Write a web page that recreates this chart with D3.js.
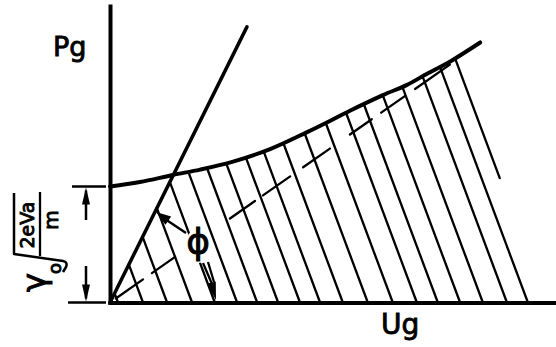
<!DOCTYPE html>
<html>
<head>
<meta charset="utf-8">
<script src="https://cdn.jsdelivr.net/npm/d3@7"></script>
<style>
  html, body { margin: 0; padding: 0; background: #fff; }
  svg { display: block; }
  text { font-family: "DejaVu Sans", "Liberation Sans", sans-serif; fill: #000; stroke: #000; stroke-width: 0.9px; }
</style>
</head>
<body>
<svg id="chart" width="556" height="347"></svg>
<script>
// ---- data (Ug along x, Pg along y, arbitrary units) ----
// upper boundary of the permitted region
const curveUg = [0, 6.7, 14.1, 20.2, 27.6, 35.9, 44.2, 49.3, 53.8, 61.2, 66.6, 71.1, 76.2, 83.0];
const curvePg = [26.0, 27.0, 28.6, 29.8, 31.6, 34.4, 38.2, 40.7, 43.0, 46.5, 48.8, 51.3, 54.0, 58.3];
// straight limit line through the origin
const limitUg = [0, 30.7];
const limitPg = [0, 61.8];
// dashed line through the origin: slope and the Ug extent of each dash
const dashSlope = 0.70;
const dashFrom = [1.3, 9.4, 26.9, 34.3, 43.3, 53.8, 60.8, 68.4];
const dashTo   = [7.4, 14.6, 32.5, 40.4, 49.3, 58.7, 66.1, 76.2];
// hatching: foot of each stroke on the Ug axis, and where each stroke stops below
const hatchFoot = [1.8, 7.4, 12.8, 18.4, 23.5, 28.5, 33.0, 37.7, 42.6, 47.1, 52.2, 57.8,
                   63.4, 68.8, 73.5, 78.5, 83.6, 89.0, 93.7, 97.8];
const hatchLow  = [0, 0, 0, 0, 0, 0, 0, 0, 0, 0, 0, 0, 0, 0, 0, 0, 0, 0, 0, 27.9];
const hatchSlope = 2.68;
// axis extents and labels
const ugMax = 100, pgMax = 66.5;
const axisNames = ["Ug", "Pg"];
const angleLabel = "\u03D5";

const svg = d3.select("#chart");
const x = d3.scaleLinear().domain([0, ugMax]).range([110, 556]);
const y = d3.scaleLinear().domain([0, pgMax]).range([302.5, 5.9]);

// hatching (drawn first so boundary lines sit on top)
const boundary = svg.append("path")
  .datum(curveUg.map((u, i) => [u, curvePg[i]]))
  .attr("fill", "none")
  .attr("stroke", "none")
  .attr("d", d3.line().x(d => x(d[0])).y(d => y(d[1])).curve(d3.curveCatmullRom));

// sample the boundary so it can be evaluated at any Ug
const node = boundary.node();
const total = node.getTotalLength();
const samples = d3.range(0, 601).map(i => node.getPointAtLength(total * i / 600));
function curveAt(u) {
  const px = x(u);
  if (px <= samples[0].x) return y.invert(samples[0].y);
  for (let i = 1; i < samples.length; i++) {
    if (samples[i].x >= px) {
      const a = samples[i - 1], b = samples[i];
      const t = (px - a.x) / ((b.x - a.x) || 1);
      return y.invert(a.y + t * (b.y - a.y));
    }
  }
  return Infinity;
}
const limitSlope = limitPg[1] / limitUg[1];

const hatchG = svg.append("g")
  .attr("stroke", "#000").attr("stroke-width", 2.3).attr("stroke-linecap", "round");
hatchFoot.forEach((foot, i) => {
  const low = hatchLow[i];
  let s = low;
  while (s < pgMax) {
    const u = foot - s / hatchSlope;
    if (s >= limitSlope * u || s >= curveAt(u)) break;
    s += 0.05;
  }
  hatchG.append("line")
    .attr("x1", x(foot - low / hatchSlope)).attr("y1", y(low))
    .attr("x2", x(foot - s / hatchSlope)).attr("y2", y(s));
});

// dashed line
svg.append("g")
  .attr("stroke", "#000").attr("stroke-width", 2.3).attr("stroke-linecap", "round")
  .selectAll("line").data(dashFrom).join("line")
  .attr("x1", d => x(d)).attr("y1", d => y(d * dashSlope))
  .attr("x2", (d, i) => x(dashTo[i])).attr("y2", (d, i) => y(dashTo[i] * dashSlope));

// knock-out behind the angle symbol
svg.append("ellipse").attr("cx", 198).attr("cy", 246).attr("rx", 13).attr("ry", 17).attr("fill", "#fff");

// upper boundary curve
svg.append("path")
  .datum(curveUg.map((u, i) => [u, curvePg[i]]))
  .attr("fill", "none").attr("stroke", "#000").attr("stroke-width", 4).attr("stroke-linecap", "round")
  .attr("d", d3.line().x(d => x(d[0])).y(d => y(d[1])).curve(d3.curveCatmullRom));

// limit line
svg.append("line")
  .attr("x1", x(limitUg[0])).attr("y1", y(limitPg[0]))
  .attr("x2", x(limitUg[1])).attr("y2", y(limitPg[1]))
  .attr("stroke", "#000").attr("stroke-width", 3.5).attr("stroke-linecap", "round");

// axes (plain lines, no ticks)
const xAxis = svg.append("g").attr("transform", `translate(0,${y(0)})`)
  .call(d3.axisBottom(x).tickValues([]).tickSizeOuter(0));
const yAxis = svg.append("g").attr("transform", `translate(${x(0)},0)`)
  .call(d3.axisLeft(y).tickValues([]).tickSizeOuter(0));
[xAxis, yAxis].forEach(g => g.select(".domain").attr("stroke", "#000").attr("stroke-width", 4).attr("stroke-linecap", "square"));

svg.append("text").attr("x", 53).attr("y", 56).attr("font-size", 27).text(axisNames[1]);
svg.append("text").attr("x", 381).attr("y", 334).attr("font-size", 28).text(axisNames[0]);

// angle symbol and its arrows
svg.append("text").attr("x", 198).attr("y", 254).attr("font-size", 36)
  .attr("text-anchor", "middle").text(angleLabel);

function arrowHead(tipX, tipY, fromX, fromY, len, half) {
  const dx = tipX - fromX, dy = tipY - fromY, L = Math.hypot(dx, dy);
  const ux = dx / L, uy = dy / L;
  const bx = tipX - ux * len, by = tipY - uy * len;
  return `M${tipX},${tipY}L${bx - uy * half},${by + ux * half}L${bx + uy * half},${by - ux * half}Z`;
}
svg.append("line").attr("x1", 186).attr("y1", 233).attr("x2", 162).attr("y2", 217)
  .attr("stroke", "#000").attr("stroke-width", 2.5);
svg.append("path").attr("d", arrowHead(156, 212, 186, 233, 15, 5)).attr("fill", "#000");

svg.append("path").attr("d", "M203,263L212,284M208,262L214,282")
  .attr("stroke", "#000").attr("stroke-width", 2.3).attr("fill", "none");
svg.append("path").attr("d", arrowHead(216, 300, 211, 281, 18, 4.5)).attr("fill", "#000");

// dimension for the intercept on the Pg axis
const dimX = 86, topY = y(curvePg[0]), botY = y(0);
const dim = svg.append("g").attr("stroke", "#000").attr("stroke-width", 2.5);
dim.append("line").attr("x1", 72).attr("x2", 106).attr("y1", topY).attr("y2", topY);
dim.append("line").attr("x1", 68).attr("x2", 106).attr("y1", botY).attr("y2", botY);
dim.append("line").attr("x1", dimX).attr("x2", dimX).attr("y1", topY + 4).attr("y2", 220);
dim.append("line").attr("x1", dimX).attr("x2", dimX).attr("y1", 266).attr("y2", botY - 4);
svg.append("path").attr("d", arrowHead(dimX, topY + 1, dimX, 230, 17, 4)).attr("fill", "#000");
svg.append("path").attr("d", arrowHead(dimX, botY - 1, dimX, 260, 17, 4)).attr("fill", "#000");

// rotated label: gamma_0 * sqrt(2eVa / m)
const lab = svg.append("g").attr("transform", "translate(45,292) rotate(-90)");
lab.append("text").attr("x", 0).attr("y", 0).attr("font-size", 32).text("\u03B3");
lab.append("text").attr("x", 18).attr("y", 16).attr("font-size", 18).text("o");
lab.append("text").attr("x", 67).attr("y", -11).attr("font-size", 19).attr("text-anchor", "middle").text("2eVa");
lab.append("text").attr("x", 72).attr("y", 13).attr("font-size", 20).attr("text-anchor", "middle").text("m");
svg.append("line").attr("x1", 40).attr("x2", 40).attr("y1", 192).attr("y2", 256)
  .attr("stroke", "#000").attr("stroke-width", 2.3);
svg.append("path").attr("d", "M14,193L14,254L63,261Q68,262 66,267L63,272")
  .attr("stroke", "#000").attr("stroke-width", 2.5).attr("fill", "none").attr("stroke-linejoin", "round");
</script>
</body>
</html>
